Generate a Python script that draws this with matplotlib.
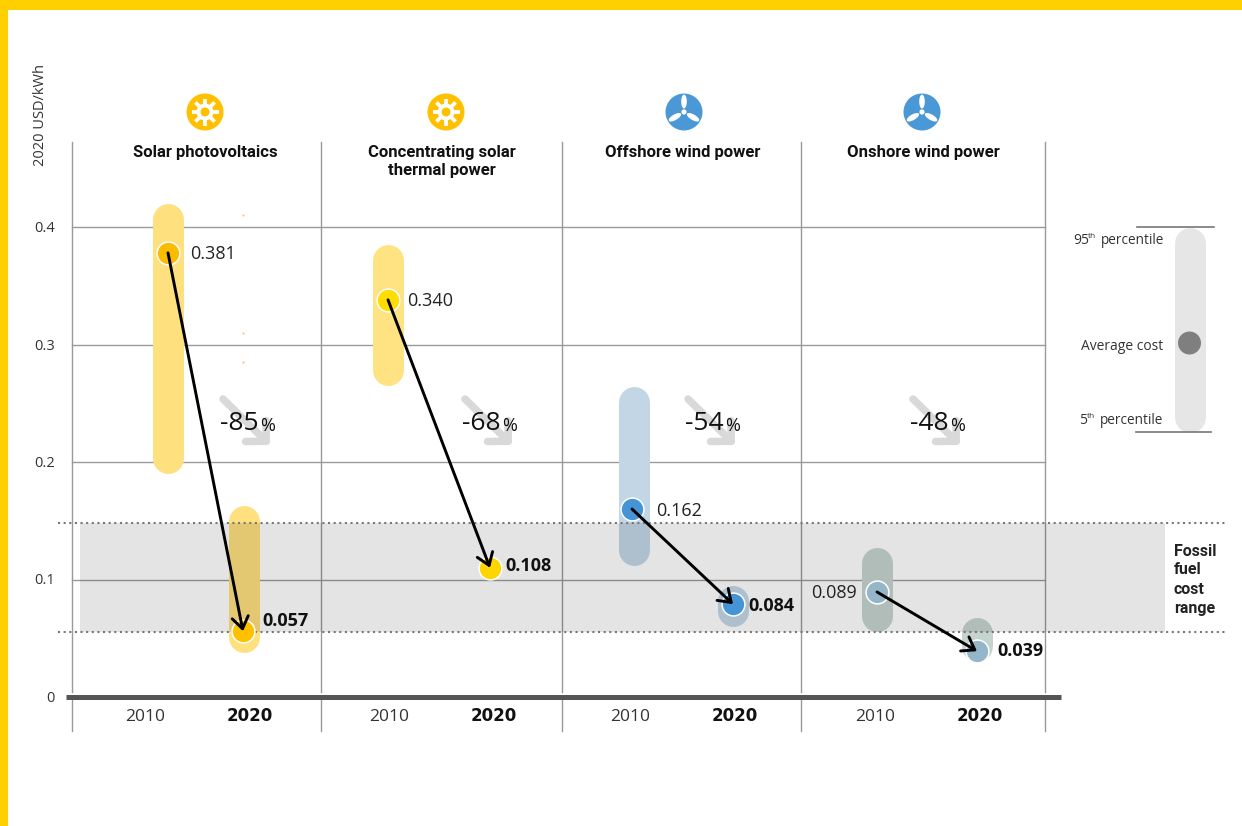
import matplotlib
matplotlib.use('Agg')
import matplotlib.pyplot as plt
from matplotlib.patches import Circle, Ellipse, Rectangle
import numpy as np

W, H = 1242, 826

techs = ['Solar photovoltaics', 'Concentrating solar\nthermal power', 'Offshore wind power', 'Onshore wind power']
years = ['2010', '2020']
avg_2010 = [0.378, 0.338, 0.160, 0.0894]
avg_2020 = [0.056, 0.110, 0.079, 0.039]
low_2010 = [0.190, 0.265, 0.112, 0.056]
high_2010 = [0.420, 0.385, 0.264, 0.127]
low_2020 = [0.038, None, 0.060, 0.030]
high_2020 = [0.163, None, 0.0945, 0.068]
labels_2010 = ['0.381', '0.340', '0.162', '0.089']
labels_2020 = ['0.057', '0.108', '0.084', '0.039']
changes = ['-85', '-68', '-54', '-48']
yticks = [0, 0.1, 0.2, 0.3, 0.4]
fossil_low, fossil_high = 0.055, 0.148
outliers_y = [0.41, 0.31, 0.285]

x_2010 = [168, 388, 632, 877]
x_2020 = [243, 490, 733, 977]
xbar_2010 = [168, 388, 633.5, 876.5]
xbar_2020 = [244, 490, 733, 976.5]
x_year_2010 = [145, 389, 630, 875]
x_year_2020 = [250, 494, 735, 980]
x_sep = [72, 321, 562, 801, 1045]
x_title = [205.5, 442, 683, 923]
x_icon = [205, 446, 684, 922]
x_change = [239, 481, 704, 929]
dx_2010 = [22, 19, 24, -20]
dx_2020 = [19, 15, 15, 20]
ypx_2020 = [621, 566, 606, 651]
bar_col = ['#FFE07F', '#FFE382', '#C3D6E6', '#C6D4D0']
dot_2010 = ['#FDBB00', '#FFDD00', '#4594D6', '#94B6C8']
dot_2020 = ['#FFC000', '#FFD500', '#4594D6', '#94B6C8']

px_per_unit = 1175.0
y0_px = 697.0

def px2y(p):
    return (y0_px - p) / px_per_unit

plt.rcParams['font.family'] = ['Open Sans', 'DejaVu Sans']
fig = plt.figure(figsize=(W / 100, H / 100), dpi=100)
ax = fig.add_axes([0, 0, 1, 1])
ax.set_xlim(0, W)
ax.set_ylim(px2y(H), px2y(0))
ax.axis('off')

# page edges
ax.add_patch(Rectangle((0, px2y(10)), W, px2y(0) - px2y(10), color='#FFCF00', lw=0))
ax.add_patch(Rectangle((0, px2y(H)), 8, px2y(0) - px2y(H), color='#FFCF00', lw=0))

# grid and separators
for t in yticks[1:]:
    ax.plot([72, 1045], [t, t], color='#9A9A9A', lw=1, zorder=1)
for x in x_sep:
    ax.plot([x, x], [px2y(142), px2y(692)], color='#999999', lw=1, zorder=1)
    ax.plot([x, x], [px2y(700), px2y(731)], color='#999999', lw=1, zorder=1)
ax.plot([66, 1061], [0, 0], color='#555555', lw=3.6, solid_capstyle='butt', zorder=6)

for t in yticks:
    lab = '0' if t == 0 else f'{t:.1f}'
    ax.text(55, t - 1.5 / px_per_unit, lab, ha='right', va='center', fontsize=10.5, color='#333333')
ax.text(40, px2y(115), '2020 USD/kWh', rotation=90, ha='center', va='center', fontsize=10.5, color='#333333')

# range bars, cap radius is half of the 31 px width
r = 15.5 / px_per_unit
def range_bar(x, lo, hi, col, lw=22.3):
    ax.plot([x, x], [lo + r, hi - r], color=col, lw=lw, solid_capstyle='round', zorder=2)

for i in range(4):
    range_bar(xbar_2010[i], low_2010[i], high_2010[i], bar_col[i])
    if low_2020[i] is not None:
        range_bar(xbar_2020[i], low_2020[i], high_2020[i], bar_col[i])

# fossil band, black with low alpha darkens bars like a multiply
ax.add_patch(Rectangle((80, fossil_low), 1085, fossil_high - fossil_low, color='black', alpha=0.106, lw=0, zorder=3))
for v in [fossil_low, fossil_high]:
    ax.plot([58, 1228], [v, v], color='#777777', lw=1.5, ls=(0, (1, 1.7)), zorder=4)
for i, s in enumerate(['Fossil', 'fuel', 'cost', 'range']):
    ax.text(1174, px2y(551 + i * 19), s, ha='left', va='center', fontsize=11.5, fontweight='bold',
            family='Roboto', color='#222222')

ax.scatter([243] * 3, outliers_y, s=2.5, color='#FFC080', lw=0, zorder=2)

# average dots and connecting arrows
for i in range(4):
    ax.scatter(x_2010[i], avg_2010[i], s=270, color=dot_2010[i], edgecolor='white', lw=1.1, zorder=5)
    ax.scatter(x_2020[i], avg_2020[i], s=270, color=dot_2020[i], edgecolor='white', lw=1.1, zorder=5)
    ax.annotate('', xy=(x_2020[i], avg_2020[i]), xytext=(x_2010[i], avg_2010[i]),
                arrowprops=dict(arrowstyle='->,head_length=0.6,head_width=0.42', color='black', lw=2.1,
                                mutation_scale=14, shrinkA=0, shrinkB=0), zorder=7)
    ha = 'right' if dx_2010[i] < 0 else 'left'
    ax.text(x_2010[i] + dx_2010[i], avg_2010[i] - 1.5 / px_per_unit, labels_2010[i], ha=ha, va='center',
            fontsize=13, color='#222222', zorder=8)
    ax.text(x_2020[i] + dx_2020[i], px2y(ypx_2020[i]), labels_2020[i], ha='left', va='center', fontsize=13,
            fontweight='bold', color='#111111', zorder=8)

    # change arrow and percentage
    cx = x_change[i]
    ax.annotate('', xy=(cx + 31, px2y(445)), xytext=(cx - 16, px2y(399)),
                arrowprops=dict(arrowstyle='->,head_length=1.05,head_width=1.05', color='#D9D9D9', lw=5.4,
                                shrinkA=0, shrinkB=0), zorder=2)
    ax.text(cx, px2y(424), changes[i], ha='center', va='center', fontsize=19, color='#111111', zorder=8)
    ax.text(cx + 21, px2y(426), '%', ha='left', va='center', fontsize=13, color='#111111', zorder=8)

    ax.text(x_title[i], px2y(145), techs[i], ha='center', va='top', fontsize=12, fontweight='bold',
            family='Roboto', color='#111111', linespacing=1.27)
    ax.text(x_year_2010[i], px2y(717), years[0], ha='center', va='center', fontsize=12.5, color='#333333')
    ax.text(x_year_2020[i], px2y(716), years[1], ha='center', va='center', fontsize=12, fontweight='bold',
            family='DejaVu Sans', color='#111111')

# icons in a pixel axes on top
ic = fig.add_axes([0, 0, 1, 1], facecolor='none')
ic.set_xlim(0, W)
ic.set_ylim(H, 0)
ic.axis('off')

def sun(cx, cy):
    ic.add_patch(Circle((cx, cy), 18.5, color='#FFC000', lw=0))
    ic.add_patch(Circle((cx, cy), 8.5, color='white', lw=0))
    ic.add_patch(Circle((cx, cy), 4.5, color='#FFC000', lw=0))
    for a in np.arange(0, 360, 45):
        ca, sa = np.cos(np.radians(a)), np.sin(np.radians(a))
        ic.plot([cx + 7 * ca, cx + 13.5 * ca], [cy + 7 * sa, cy + 13.5 * sa], color='white', lw=2.7, solid_capstyle='butt')

def wind(cx, cy):
    ic.add_patch(Circle((cx, cy), 18.5, color='#4A98D6', lw=0))
    ic.add_patch(Circle((cx, cy), 2.6, color='white', lw=0))
    for a in [-90, 30, 150]:
        ca, sa = np.cos(np.radians(a)), np.sin(np.radians(a))
        ic.add_patch(Ellipse((cx + 10.5 * ca, cy + 10.5 * sa), 14, 5.6, angle=a, color='white', lw=0))

sun(x_icon[0], 112)
sun(x_icon[1], 112)
wind(x_icon[2], 112)
wind(x_icon[3], 112)

# key on the right
ic.plot([1190, 1190], [242.5, 416.5], color='#E6E6E6', lw=22.3, solid_capstyle='round', zorder=1)
ic.plot([1137, 1214], [227, 227], color='#777777', lw=1.2)
ic.plot([1136, 1211], [432, 432], color='#777777', lw=1.2)
ic.add_patch(Circle((1189.5, 343), 11.5, color='#7F7F7F', lw=0, zorder=2))
ic.text(1163, 346, 'Average cost', ha='right', va='center', fontsize=10, color='#333333')
ic.text(1073, 240, '95', ha='left', va='center', fontsize=10, color='#333333')
ic.text(1088, 236, 'th', ha='left', va='center', fontsize=6, color='#333333')
ic.text(1164, 240, 'percentile', ha='right', va='center', fontsize=9.8, color='#333333')
ic.text(1079, 421, '5', ha='left', va='center', fontsize=10, color='#333333')
ic.text(1087, 417, 'th', ha='left', va='center', fontsize=6, color='#333333')
ic.text(1163, 421, 'percentile', ha='right', va='center', fontsize=9.8, color='#333333')

fig.savefig('out.png', dpi=100)
